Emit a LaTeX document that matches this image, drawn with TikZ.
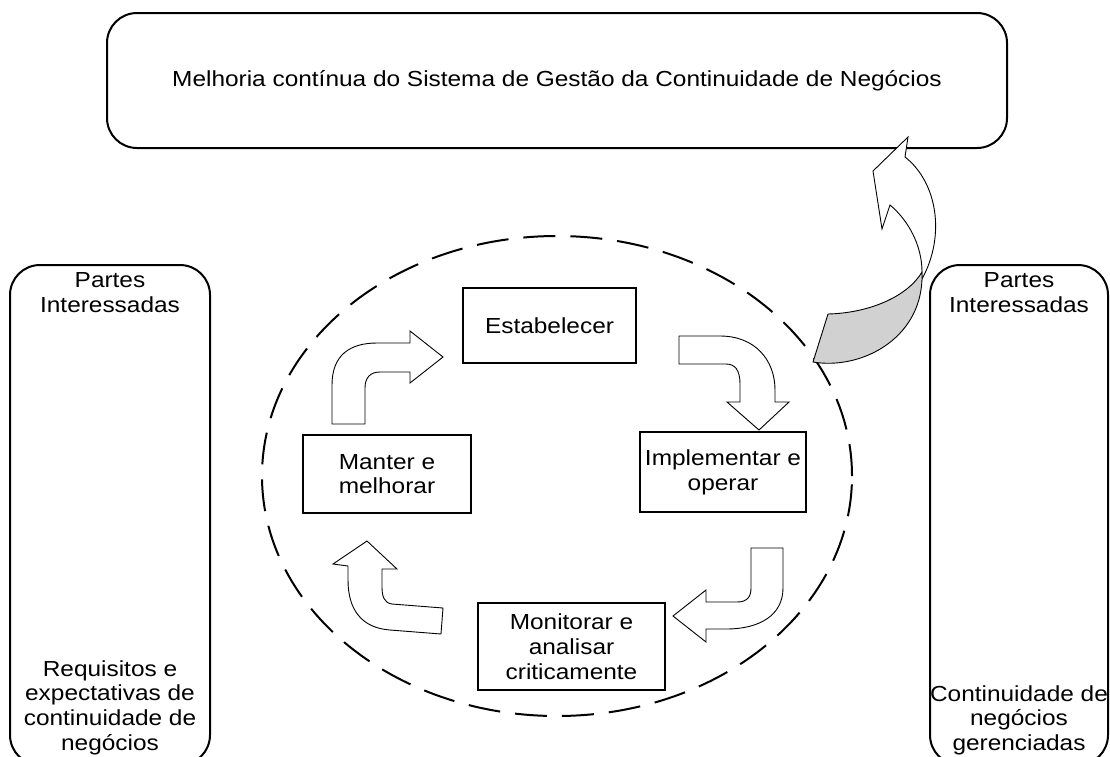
\documentclass[tikz,border=0pt]{standalone}
\usepackage{fontspec}
\setmainfont{Liberation Sans}[FakeStretch=1.12]
\usetikzlibrary{shapes.geometric}
\begin{document}
\begin{tikzpicture}[x=1pt,y=-1pt,
  lbl/.style={font=\fontsize{21.8}{24.8}\selectfont, align=center, inner sep=0pt},
  rbox/.style={draw, line width=2pt, rounded corners=30pt, inner sep=0pt},
  sbox/.style={draw, line width=2pt, inner sep=0pt},
  barrow/.style={draw, fill=white, line width=0.9pt, line join=miter},
  ring/.style={draw, ellipse, line width=2pt, dash pattern=on 32pt off 15pt, inner sep=0pt}]
\useasboundingbox (0,0) rectangle (1110,756);

% dashed ring
\node[ring, minimum width=590pt, minimum height=480pt] (ring) at (557,476) {};

% top box
\node[rbox, lbl, minimum width=900pt, minimum height=135pt] (top) at (557,80.5)
  {Melhoria contínua do Sistema de Gestão da Continuidade de Negócios};

% side boxes
\node[rbox, minimum width=200pt, minimum height=500pt] (left) at (110,515) {};
\node[lbl, anchor=north] (lefttop) at (110,272) {Partes\\Interessadas};
\node[lbl, anchor=north] (leftbot) at (110,660) {Requisitos e\\expectativas de\\continuidade de\\negócios};

\node[rbox, minimum width=178pt, minimum height=500pt] (right) at (1019,515) {};
\node[lbl, anchor=north] (righttop) at (1019,272) {Partes\\Interessadas};
\node[lbl, anchor=north] (rightbot) at (1019,685) {Continuidade de\\negócios\\gerenciadas};

% cycle boxes
\node[sbox, lbl, minimum width=173pt, minimum height=75pt] (est) at (549.5,325.5) {Estabelecer};
\node[sbox, lbl, minimum width=166pt, minimum height=80pt] (imp) at (723,472) {Implementar e\\operar};
\node[sbox, lbl, minimum width=168pt, minimum height=78pt] (man) at (387,474) {Manter e\\melhorar};
\node[sbox, lbl, minimum width=187pt, minimum height=87pt] (mon) at (571.5,646.5) {Monitorar e\\analisar\\criticamente};

% bent block arrows
\draw[barrow] (332,424) -- (332,385) .. controls (332,355) and (350,343) .. (377,343)
  -- (410,343) -- (410,331) -- (443,357) -- (410,383) -- (410,372) -- (380,372)
  .. controls (370,372) and (365,378) .. (365,388) -- (365,424) -- cycle;

\draw[barrow] (679,336) -- (720,336) .. controls (755,336) and (775,360) .. (775,390)
  -- (775,402) -- (789,402) -- (759,430) -- (727,402) -- (740,402) -- (740,384)
  .. controls (740,370) and (735,364) .. (726,364) -- (679,364) -- cycle;

\draw[barrow] (751,548) -- (783,548) -- (783,588) .. controls (783,615) and (760,629) .. (726,629)
  -- (706,629) -- (706,642) -- (673,616) -- (706,590) -- (706,602) -- (737,602)
  .. controls (747,602) and (751,597) .. (751,588) -- cycle;

\draw[barrow] (443,608) -- (392,604) .. controls (384,603) and (382,596) .. (382,587)
  -- (382,569) -- (397,569) -- (367,541) -- (333,564) -- (348,566) -- (348,580)
  .. controls (348,610) and (362,628) .. (390,630) -- (441,634) -- cycle;

% big curved arrow to top box
\draw[barrow] (908,137) -- (873,171) -- (882,229) -- (890,205)
  .. controls (908,220) and (922,245) .. (922,272) -- (922,279)
  .. controls (946,235) and (937,182) .. (905,157) -- cycle;
\draw[barrow, fill=black!18] (922,272) .. controls (908,296) and (870,313) .. (828,314)
  -- (813,362) .. controls (860,370) and (920,340) .. (922,279) -- cycle;
\end{tikzpicture}
\end{document}
